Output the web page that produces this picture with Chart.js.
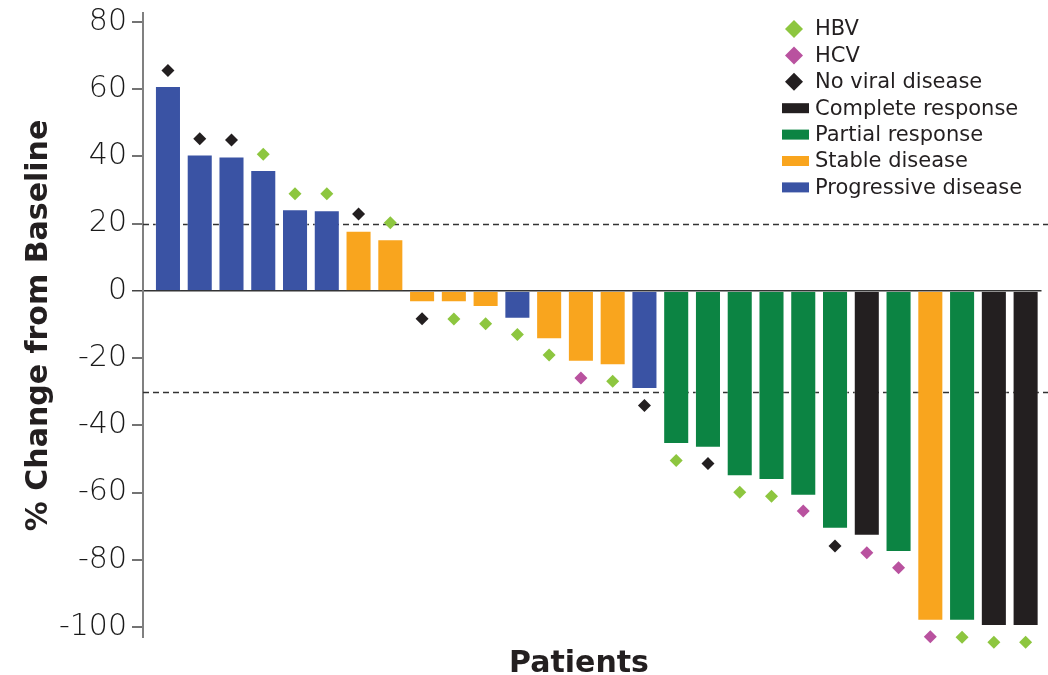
<!DOCTYPE html>
<html><head><meta charset="utf-8">
<script src="https://cdn.jsdelivr.net/npm/chart.js@4.4.1/dist/chart.umd.min.js"></script>
<style>html,body{margin:0;padding:0;background:#fff}#wrap{width:1048px;height:675px}</style>
</head><body><div id="wrap"><canvas id="c" width="1048" height="675"></canvas></div>
<script>
// ---- data ----
const patients = [1,2,3,4,5,6,7,8,9,10,11,12,13,14,15,16,17,18,19,20,21,22,23,24,25,26,27,28];
const changeFromBaseline = [61.0, 40.6, 40.0, 36.0, 24.3, 24.0, 17.9, 15.4, -3.4, -3.4, -4.8, -8.3, -14.4, -21.1, -22.1, -29.2, -45.6, -46.7, -55.2, -56.3, -61.0, -70.8, -72.9, -77.7, -98.2, -98.2, -99.7, -99.7];
const response = ['PD','PD','PD','PD','PD','PD','SD','SD','SD','SD','SD','PD','SD','SD','SD','PD','PR','PR','PR','PR','PR','PR','CR','PR','SD','PR','CR','CR'];
const viralStatus = ['None','None','None','HBV','HBV','HBV','None','HBV','None','HBV','HBV','HBV','HBV','HCV','HBV','None','HBV','None','HBV','HBV','HCV','None','HCV','HCV','HCV','HBV','HBV','HBV'];
const markerValues = [65.6, 45.3, 44.9, 40.7, 28.9, 28.9, 22.9, 20.3, -8.3, -8.4, -9.8, -13.0, -19.1, -25.9, -26.9, -34.1, -50.5, -51.4, -59.9, -61.1, -65.5, -75.9, -77.9, -82.4, -102.9, -103.1, -104.6, -104.6];
const viralOrder = ['HBV','HCV','None'];
const viralNames = ['HBV','HCV','No viral disease'];
const responseOrder = ['CR','PR','SD','PD'];
const responseNames = ['Complete response','Partial response','Stable disease','Progressive disease'];
const yTickStep = 20;
const yMin = -103.3, yMax = 82.7;
const thresholds = [20, -30];
const yTitle = '% Change from Baseline';
const xTitle = 'Patients';

// ---- styles ----
const viralColors = {HBV:'#8DC63F', HCV:'#B9529F', None:'#231F20'};
const responseColors = {CR:'#231F20', PR:'#0C8443', SD:'#F9A51E', PD:'#3A53A4'};
const textColor = '#231F20';

const barData = patients.map((p,i)=>({x:i, y:changeFromBaseline[i]}));
const markerSets = viralOrder.map((k,j)=>({
  type:'scatter',
  label: viralNames[j],
  data: patients.map((p,i)=>viralStatus[i]===k?{x:i,y:markerValues[i]}:null).filter(d=>d),
  pointStyle:'rectRot', pointRadius:6.5, pointHoverRadius:6.5, borderWidth:0,
  backgroundColor: viralColors[k], clip:false, order:0
}));

const refLines = {
  id:'refLines',
  beforeDatasetsDraw(chart){
    const {ctx, chartArea, scales:{y}} = chart;
    ctx.save();
    ctx.strokeStyle='#333'; ctx.lineWidth=1.5; ctx.setLineDash([6,4]);
    thresholds.forEach(t=>{
      const py = Math.round(y.getPixelForValue(t))+0.5;
      ctx.beginPath(); ctx.moveTo(chartArea.left, py); ctx.lineTo(chart.width, py); ctx.stroke();
    });
    ctx.restore();
  }
};
const legendAndTitle = {
  id:'legendAndTitle',
  afterDraw(chart){
    const ctx = chart.ctx;
    ctx.save();
    const items = viralOrder.map((k,j)=>({kind:'d', color:viralColors[k], text:viralNames[j]}))
      .concat(responseOrder.map((k,j)=>({kind:'b', color:responseColors[k], text:responseNames[j]})));
    let yy = 29;
    ctx.font = '21px "DejaVu Sans"'; ctx.textBaseline='middle'; ctx.textAlign='left';
    items.forEach(it=>{
      ctx.fillStyle = it.color;
      if (it.kind==='d'){
        const cx=794, r=9;
        ctx.beginPath(); ctx.moveTo(cx,yy-r); ctx.lineTo(cx+r,yy); ctx.lineTo(cx,yy+r); ctx.lineTo(cx-r,yy); ctx.closePath(); ctx.fill();
      } else {
        ctx.fillRect(782, yy-5, 27, 10);
      }
      ctx.fillStyle = textColor;
      ctx.fillText(it.text, 815, yy+1);
      yy += 26.4;
    });
    ctx.font = 'bold 30px "DejaVu Sans"'; ctx.textAlign='center'; ctx.textBaseline='alphabetic';
    ctx.fillText(xTitle, 579, 672);
    ctx.restore();
  }
};

new Chart(document.getElementById('c'), {
  type:'bar',
  data:{
    datasets:[
      ...markerSets,
      {type:'bar', label:'Response', data:barData,
       backgroundColor: response.map(r=>responseColors[r]),
       borderColor:'rgba(255,255,255,0.35)', borderWidth:1,
       barPercentage:0.82, categoryPercentage:1, order:1}
    ]
  },
  options:{
    responsive:false, animation:false, devicePixelRatio:1,
    layout:{padding:{top:13, right:5, left:0, bottom:0}},
    plugins:{legend:{display:false}, tooltip:{enabled:false}},
    scales:{
      x:{type:'linear', min:-0.786, max:27.5, offset:false,
         grid:{display:false, drawTicks:false}, border:{display:false},
         ticks:{display:false}, title:{display:false},
         afterFit(s){ s.height = 37; }},
      y:{type:'linear', min:yMin, max:yMax,
         ticks:{stepSize:yTickStep, includeBounds:false, padding:5,
                font:{family:'"DejaVu Sans"', size:30, weight:'200', lineHeight:0.5}, color:'#1a1a1a'},
         grid:{drawOnChartArea:true, drawTicks:true, tickLength:11,
               color:c=>c.tick && c.tick.value===0 ? '#333' : 'rgba(0,0,0,0)',
               lineWidth:c=>c.tick && c.tick.value===0 ? 1.5 : 0,
               tickColor:'#444', tickWidth:1.5},
         border:{display:true, color:'#808080', width:2},
         title:{display:true, text:yTitle, color:textColor,
                font:{family:'"DejaVu Sans"', size:30, weight:'bold', lineHeight:1.2},
                padding:{top:21, bottom:0}},
         afterFit(s){ s.width = 143; }}
    }
  },
  plugins:[refLines, legendAndTitle]
});
</script></body></html>
